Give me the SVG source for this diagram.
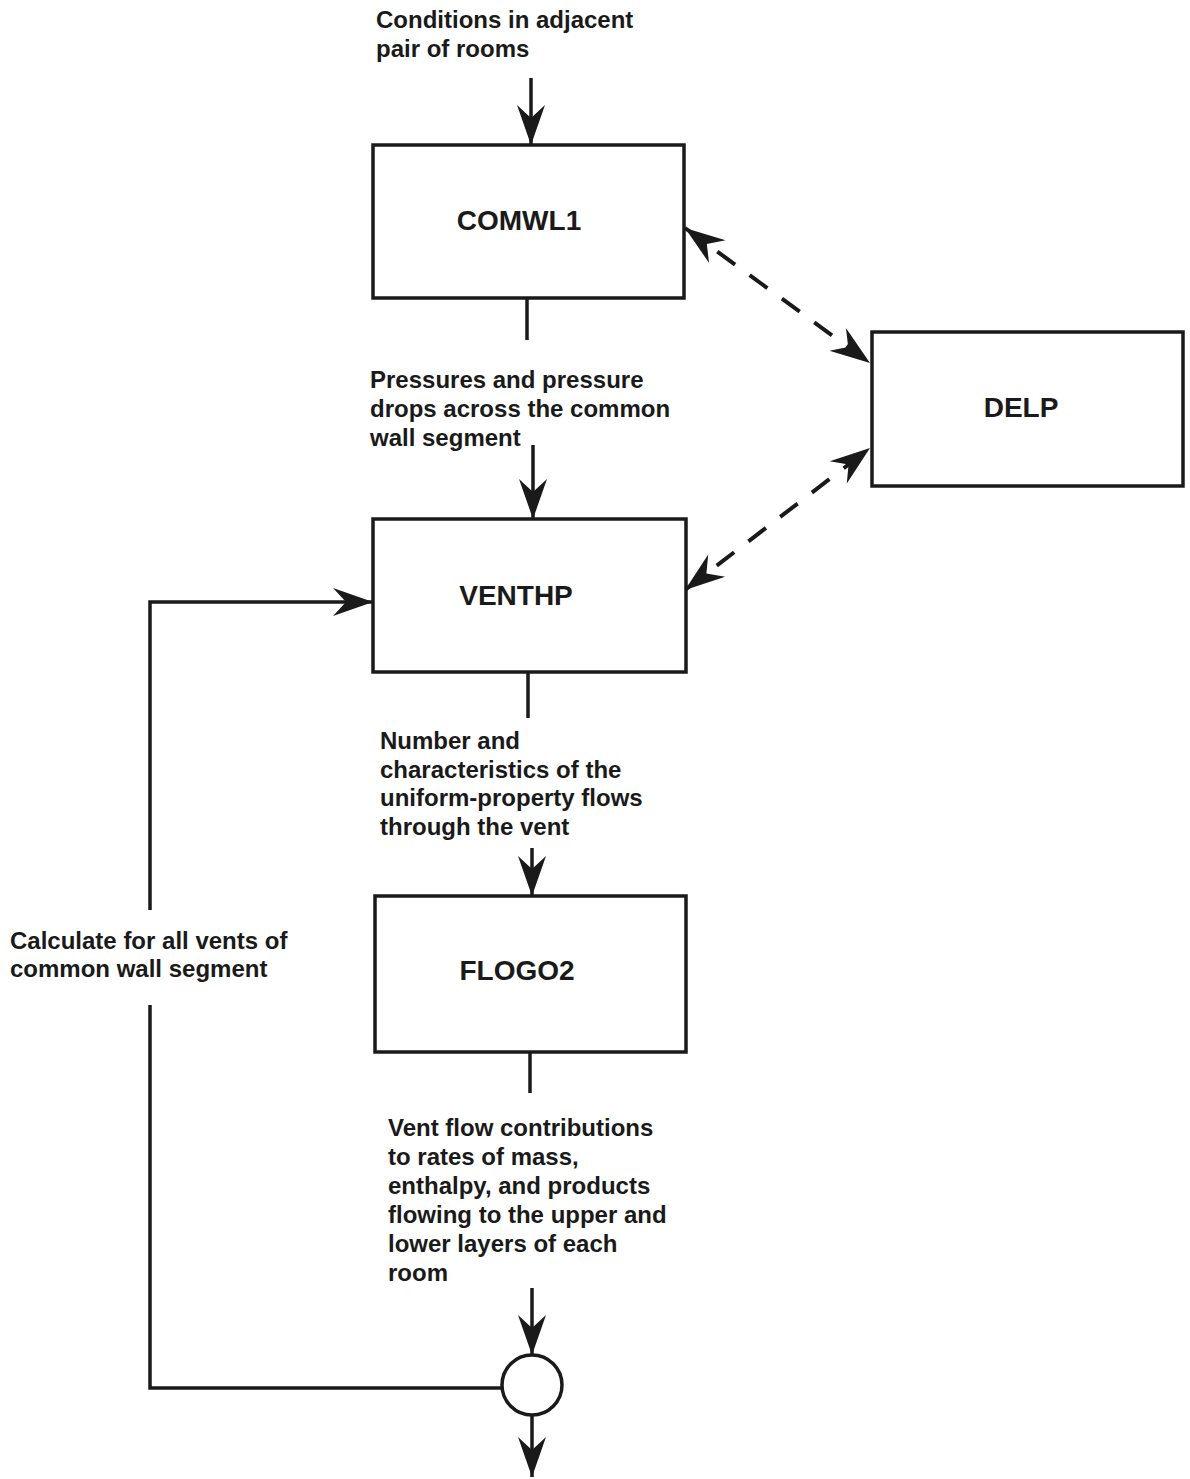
<svg xmlns="http://www.w3.org/2000/svg" width="1190" height="1479" viewBox="0 0 1190 1479">
<defs>
<style>
.box{fill:#fff;stroke:#1a1a1a;stroke-width:3.5}
.lbl{font-family:"Liberation Sans",Arial,sans-serif;font-weight:bold;font-size:28px;fill:#1a1a1a;text-anchor:middle}
.txt{font-family:"Liberation Sans",Arial,sans-serif;font-weight:bold;font-size:24px;fill:#1a1a1a}
.ln{fill:none;stroke:#1a1a1a;stroke-width:3.5}
.dash{fill:none;stroke:#1a1a1a;stroke-width:4;stroke-dasharray:22 18}
</style>
<marker id="ah" markerUnits="userSpaceOnUse" viewBox="-42 -16 44 32" refX="0" refY="0" markerWidth="44" markerHeight="32" orient="auto-start-reverse">
<path d="M0,0 L-40,-14 L-27,0 L-40,14 Z" fill="#1a1a1a"/>
</marker>
</defs>
<rect width="1190" height="1479" fill="#fff"/>
<g id="connectors">
<line class="ln" x1="531" y1="78" x2="531" y2="145" marker-end="url(#ah)"/>
<line class="ln" x1="527" y1="298" x2="527" y2="340"/>
<line class="ln" x1="533" y1="445" x2="533" y2="519" marker-end="url(#ah)"/>
<line class="ln" x1="528" y1="672" x2="528" y2="718"/>
<line class="ln" x1="532" y1="848" x2="532" y2="896" marker-end="url(#ah)"/>
<line class="ln" x1="530" y1="1052" x2="530" y2="1093"/>
<line class="ln" x1="532" y1="1288" x2="532" y2="1355" marker-end="url(#ah)"/>
<line class="ln" x1="532" y1="1415" x2="532" y2="1477" marker-end="url(#ah)"/>
<polyline class="ln" points="502,1388 150,1388 150,1005"/>
<polyline class="ln" points="150,910 150,602 373,602" marker-end="url(#ah)"/>
<line class="dash" x1="685" y1="228" x2="870" y2="363" marker-start="url(#ah)" marker-end="url(#ah)"/>
<line class="dash" x1="685" y1="590" x2="870" y2="448" marker-start="url(#ah)" marker-end="url(#ah)"/>
</g>
<g id="node-comwl1">
<rect class="box" x="373" y="145" width="311" height="153"/>
<text class="lbl" x="519" y="230">COMWL1</text>
</g>
<g id="node-delp">
<rect class="box" x="872" y="332" width="311" height="154"/>
<text class="lbl" x="1021" y="417">DELP</text>
</g>
<g id="node-venthp">
<rect class="box" x="373" y="519" width="313" height="153"/>
<text class="lbl" x="516" y="605">VENTHP</text>
</g>
<g id="node-flogo2">
<rect class="box" x="375" y="896" width="311" height="156"/>
<text class="lbl" x="517" y="980">FLOGO2</text>
</g>
<g id="node-junction">
<circle cx="532" cy="1385" r="30" fill="#fff" stroke="#1a1a1a" stroke-width="3.5"/>
</g>
<g id="labels">
<text class="txt" x="376" y="28">Conditions in adjacent</text>
<text class="txt" x="376" y="57">pair of rooms</text>
<text class="txt" x="370" y="388">Pressures and pressure</text>
<text class="txt" x="370" y="417">drops across the common</text>
<text class="txt" x="370" y="446">wall segment</text>
<text class="txt" x="380" y="749">Number and</text>
<text class="txt" x="380" y="778">characteristics of the</text>
<text class="txt" x="380" y="806">uniform-property flows</text>
<text class="txt" x="380" y="835">through the vent</text>
<text class="txt" x="10" y="949">Calculate for all vents of</text>
<text class="txt" x="10" y="977">common wall segment</text>
<text class="txt" x="388" y="1136">Vent flow contributions</text>
<text class="txt" x="388" y="1165">to rates of mass,</text>
<text class="txt" x="388" y="1194">enthalpy, and products</text>
<text class="txt" x="388" y="1223">flowing to the upper and</text>
<text class="txt" x="388" y="1252">lower layers of each</text>
<text class="txt" x="388" y="1281">room</text>
</g>
</svg>
